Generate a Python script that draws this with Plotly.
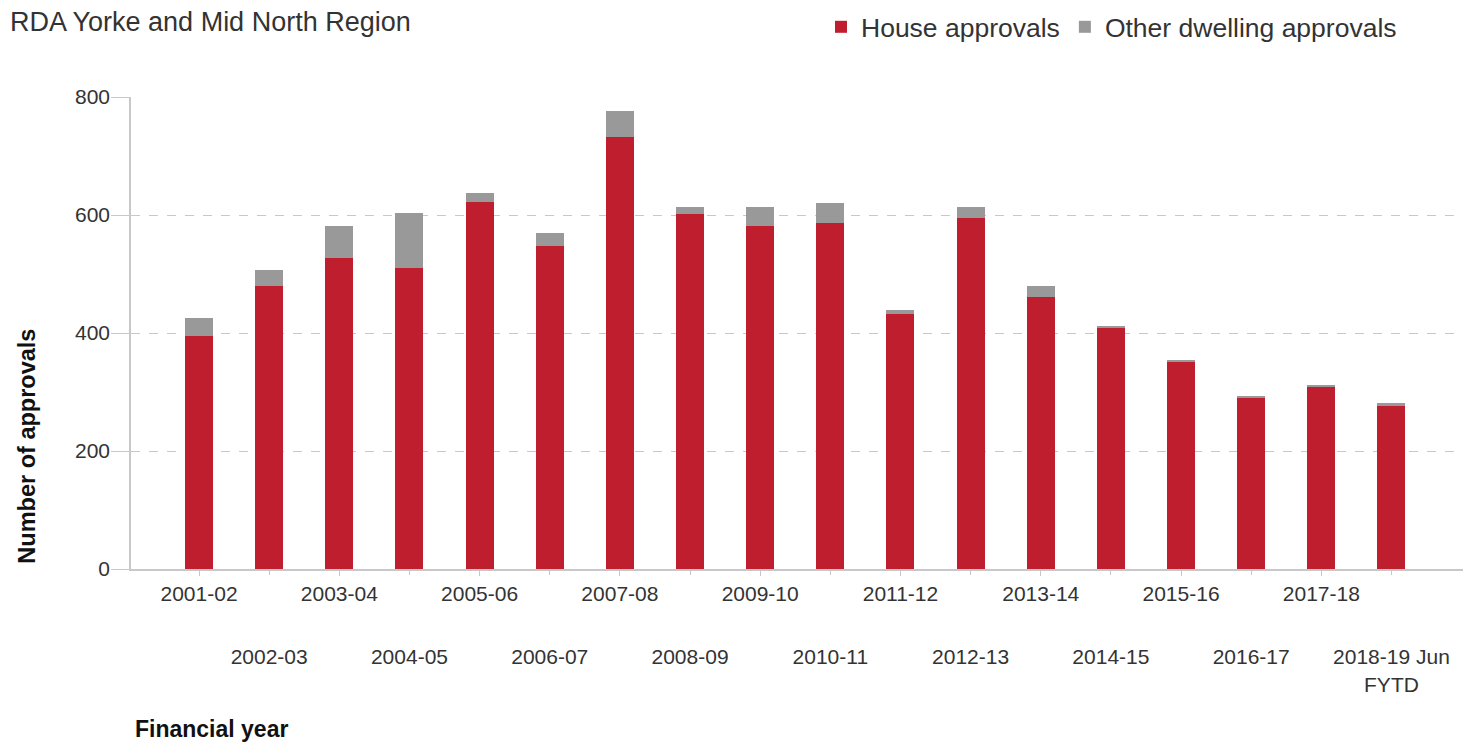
import plotly.graph_objects as go

categories = ["2001-02", "2002-03", "2003-04", "2004-05", "2005-06", "2006-07",
              "2007-08", "2008-09", "2009-10", "2010-11", "2011-12", "2012-13",
              "2013-14", "2014-15", "2015-16", "2016-17", "2017-18",
              "2018-19 Jun<br>FYTD"]
house = [395, 480, 527, 510, 622, 547, 733, 601, 581, 587, 432, 595,
         461, 409, 351, 290, 310, 276]
other = [30, 26, 54, 94, 16, 23, 44, 13, 33, 34, 7, 19, 19, 2, 2, 2, 2, 6]
y_ticks = [0, 200, 400, 600, 800]

FONT = "Liberation Sans, Arial, sans-serif"
RED = "#BE1E2D"
GREY = "#999999"
AXIS = "#c8c8c8"
TXT = "#333333"

# page body adds an 8px margin, so the figure is drawn 8px smaller and offset
OFF = 8
W, H = 1476 - OFF, 747 - OFF
L, T, PW, PH = 131 - OFF, 97 - OFF, 1332, 472.5
R = W - L - PW
B = H - T - PH
BOTTOM = T + PH  # y of the x-axis in figure px

idx = list(range(len(categories)))
even = idx[0::2]
odd = idx[1::2]

fig = go.Figure()
fig.add_trace(go.Bar(x=idx, y=house, name="House approvals",
                     marker=dict(color=RED, line=dict(width=0)), width=0.4))
fig.add_trace(go.Bar(x=idx, y=other, name="Other dwelling approvals",
                     marker=dict(color=GREY, line=dict(width=0)), width=0.4))
# invisible helper so the second (staggered) label row axis is rendered
fig.add_trace(go.Scatter(x=odd, y=[house[i] for i in odd], xaxis="x2", yaxis="y",
                         mode="markers", marker=dict(opacity=0, size=1),
                         showlegend=False, hoverinfo="skip"))

xr = [-0.97, 18.02]
fig.update_layout(
    barmode="stack",
    width=W, height=H,
    margin=dict(l=L, r=R, t=T, b=B, autoexpand=False),
    paper_bgcolor="white", plot_bgcolor="white",
    font=dict(family=FONT, color=TXT),
    title=dict(text="RDA Yorke and Mid North Region", x=(10 - OFF) / W, xanchor="left",
               xref="container", y=1 - (22 - OFF) / H, yanchor="middle", yref="container",
               pad=dict(l=0, r=0, t=0, b=0),
               font=dict(size=27, color=TXT, family=FONT)),
    legend=dict(orientation="h", x=(1402 - 131) / PW, xanchor="right",
                y=(569.5 - 27) / PH, yanchor="middle",
                font=dict(size=26.5, color=TXT, family=FONT), traceorder="normal",
                bgcolor="rgba(0,0,0,0)"),
    xaxis=dict(range=xr, tickmode="array", tickvals=even,
               ticktext=[categories[i] for i in even],
               showline=True, linecolor=AXIS, linewidth=1.5,
               ticks="outside", ticklen=5, tickcolor=AXIS,
               tickfont=dict(size=21, color=TXT, family=FONT),
               showgrid=False, zeroline=False),
    xaxis2=dict(range=xr, overlaying="x", anchor="y", side="bottom",
                tickmode="array", tickvals=odd,
                ticktext=[categories[i] for i in odd],
                showline=False, ticks="outside", ticklen=5, tickcolor=AXIS,
                ticklabelstandoff=64,
                tickfont=dict(size=21, color=TXT, family=FONT),
                showgrid=False, zeroline=False),
    yaxis=dict(range=[0, 800], tickmode="array", tickvals=y_ticks,
               showline=True, linecolor=AXIS, linewidth=1.5,
               ticks="outside", ticklen=18, tickcolor=AXIS, ticklabelstandoff=-3,
               tickfont=dict(size=21, color=TXT, family=FONT),
               showgrid=True, gridcolor="#c8c8c8", griddash="dash", gridwidth=1,
               zeroline=False),
)

fig.add_annotation(text="<b>Number of approvals</b>", textangle=-90,
                   xref="paper", yref="paper", x=(27 - 131) / PW, y=(569.5 - 447) / PH,
                   xanchor="center", yanchor="middle", showarrow=False,
                   font=dict(size=23.5, color="#111111", family=FONT))
fig.add_annotation(text="<b>Financial year</b>",
                   xref="paper", yref="paper", x=(133 - 131) / PW, y=(569.5 - 730) / PH,
                   xanchor="left", yanchor="middle", showarrow=False,
                   font=dict(size=23, color="#111111", family=FONT))

fig.write_html("out.html")
